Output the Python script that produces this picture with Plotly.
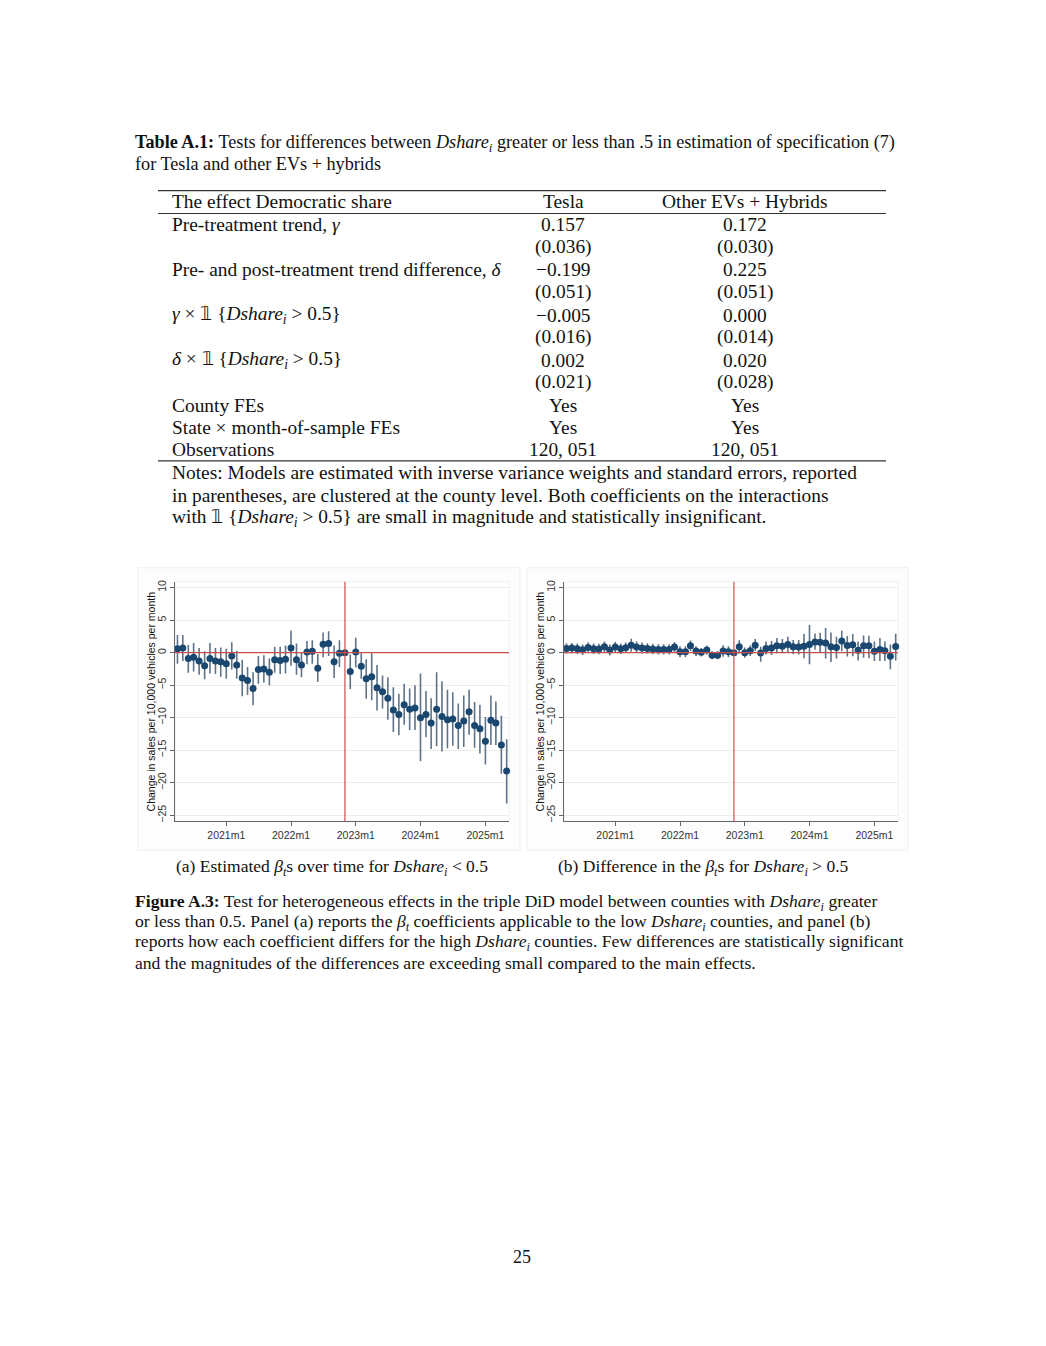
import plotly.graph_objects as go
import pandas as pd

W, H = 1046, 1346

# ---------------- data ----------------
months = pd.date_range("2020-04-01", periods=62, freq="MS")
event_month = "2022-11-01"

tick_vals = ["2021-01-01", "2022-01-01", "2023-01-01", "2024-01-01", "2025-01-01"]
tick_text = ["2021m1", "2022m1", "2023m1", "2024m1", "2025m1"]
y_ticks = [10, 5, 0, -5, -10, -15, -20, -25]

# Panel (a): estimated beta_t for Dshare < 0.5
a_coef = [0.6, 0.7, -0.9, -0.7, -1.3, -2.0, -0.9, -1.3, -1.4, -1.7,
          -0.5, -1.9, -3.9, -4.3, -5.5, -2.6, -2.5, -3.0, -1.1, -1.2,
          -1.0, 0.7, -1.1, -1.9, 0.1, 0.2, -2.4, 1.3, 1.4, -1.4,
          -0.1, 0.0, -2.9, 0.1, -2.1, -4.0, -3.7, -5.4, -6.0, -7.0,
          -8.8, -9.5, -8.0, -8.7, -8.5, -10.0, -9.5, -10.8, -8.7, -9.8,
          -10.3, -10.2, -11.2, -10.5, -9.1, -11.2, -11.7, -13.6, -10.4, -10.8,
          -14.2, -18.2]
a_lo = [-1.7, -1.3, -3.1, -2.9, -3.4, -4.1, -3.2, -3.3, -3.7, -4.0,
        -2.6, -4.0, -6.7, -6.5, -8.1, -4.8, -4.6, -5.0, -3.1, -3.3,
        -3.2, -2.0, -3.4, -3.8, -1.8, -1.7, -4.5, -0.7, -0.5, -3.9,
        -2.2, 0.0, -5.6, -2.3, -4.0, -7.1, -7.3, -8.9, -8.6, -10.3,
        -12.2, -12.7, -11.1, -11.9, -11.9, -16.7, -13.0, -14.8, -14.4, -15.2,
        -14.7, -14.3, -14.8, -14.5, -12.6, -14.6, -15.5, -17.2, -14.2, -14.2,
        -18.6, -23.2]
a_hi = [2.7, 2.7, 1.2, 1.5, 0.7, 0.2, 1.5, 0.7, 0.8, 0.6,
        1.6, 0.3, -1.1, -2.2, -3.0, -0.5, -0.4, -0.9, 0.9, 0.9,
        1.1, 3.4, 1.4, 0.0, 1.8, 1.9, -0.2, 3.1, 3.3, 1.1,
        1.9, 0.0, -0.3, 2.3, -0.1, -1.0, -0.1, -1.9, -3.5, -3.8,
        -5.3, -6.3, -4.8, -5.5, -5.0, -3.2, -5.9, -7.0, -3.0, -4.4,
        -5.7, -6.1, -7.8, -6.6, -5.7, -7.6, -8.0, -9.9, -6.6, -7.5,
        -9.7, -13.3]

# Panel (b): difference in beta_t for Dshare > 0.5
b_coef = [0.65, 0.7, 0.6, 0.45, 0.8, 0.6, 0.55, 0.9, 0.4, 0.85,
          0.6, 0.75, 1.15, 0.85, 0.7, 0.65, 0.55, 0.5, 0.5, 0.5,
          0.85, 0.15, 0.15, 1.05, 0.25, 0.05, 0.4, -0.4, -0.4, 0.25,
          0.15, 0.0, 0.9, 0.0, 0.3, 1.15, -0.05, 0.65, 0.7, 1.05,
          1.0, 1.25, 0.9, 0.85, 1.0, 1.25, 1.65, 1.6, 1.5, 0.9,
          0.8, 1.8, 1.1, 1.2, 0.35, 1.05, 1.05, 0.2, 0.5, 0.3,
          -0.55, 0.95]
b_lo = [-0.15, -0.1, -0.2, -0.35, 0.0, -0.2, -0.25, 0.1, -0.45, 0.05,
        -0.2, -0.05, 0.15, 0.0, -0.15, -0.15, -0.25, -0.3, -0.3, -0.3,
        0.05, -0.7, -0.7, 0.25, -0.5, -0.6, -0.3, -1.0, -1.0, -0.65,
        -0.7, 0.0, -0.15, -0.8, -0.5, 0.25, -1.4, -0.3, -0.35, -0.1,
        -0.1, 0.1, -0.2, -0.3, -0.85, -1.8, 0.45, 0.1, -0.9, -1.45,
        -0.9, 0.2, -0.6, -0.55, -1.2, -0.8, -0.85, -1.3, -1.3, -1.3,
        -2.55, -1.2]
b_hi = [1.45, 1.5, 1.4, 1.25, 1.6, 1.4, 1.35, 1.7, 1.25, 1.65,
        1.4, 1.55, 2.15, 1.7, 1.55, 1.45, 1.35, 1.3, 1.3, 1.3,
        1.65, 1.0, 1.0, 1.85, 1.0, 0.7, 1.1, 0.2, 0.2, 1.15,
        1.0, 0.0, 1.9, 0.8, 1.1, 2.1, 0.9, 1.7, 1.8, 2.25,
        2.1, 2.45, 1.95, 1.95, 2.85, 4.25, 2.95, 3.05, 3.8, 3.1,
        2.45, 3.35, 2.55, 2.85, 1.7, 2.65, 2.6, 1.7, 2.25, 1.7,
        1.25, 2.9]

# ---------------- text ----------------
table_title = [
    "<b>Table A.1:</b> Tests for differences between <i>Dshare<sub>i</sub></i> greater or less than .5 in estimation of specification (7)",
    "for Tesla and other EVs + hybrids",
]
table_header = ["The effect Democratic share", "Tesla", "Other EVs + Hybrids"]
row_labels = [
    "Pre-treatment trend, <i>γ</i>", "",
    "Pre- and post-treatment trend difference, <i>δ</i>", "",
    "<i>γ</i> × 𝟙 {<i>Dshare<sub>i</sub></i> &gt; 0.5}", "",
    "<i>δ</i> × 𝟙 {<i>Dshare<sub>i</sub></i> &gt; 0.5}", "",
    "County FEs", "State × month-of-sample FEs", "Observations",
]
tesla_col = ["0.157", "(0.036)", "−0.199", "(0.051)", "−0.005", "(0.016)",
             "0.002", "(0.021)", "Yes", "Yes", "120, 051"]
other_col = ["0.172", "(0.030)", "0.225", "(0.051)", "0.000", "(0.014)",
             "0.020", "(0.028)", "Yes", "Yes", "120, 051"]
notes = [
    "Notes: Models are estimated with inverse variance weights and standard errors, reported",
    "in parentheses, are clustered at the county level. Both coefficients on the interactions",
    "with 𝟙 {<i>Dshare<sub>i</sub></i> &gt; 0.5} are small in magnitude and statistically insignificant.",
]
sub_a = "(a) Estimated <i>β<sub>t</sub></i>s over time for <i>Dshare<sub>i</sub></i> &lt; 0.5"
sub_b = "(b) Difference in the <i>β<sub>t</sub></i>s for <i>Dshare<sub>i</sub></i> &gt; 0.5"
fig_caption = [
    "<b>Figure A.3:</b> Test for heterogeneous effects in the triple DiD model between counties with <i>Dshare<sub>i</sub></i> greater",
    "or less than 0.5. Panel (a) reports the <i>β<sub>t</sub></i> coefficients applicable to the low <i>Dshare<sub>i</sub></i> counties, and panel (b)",
    "reports how each coefficient differs for the high <i>Dshare<sub>i</sub></i> counties. Few differences are statistically significant",
    "and the magnitudes of the differences are exceeding small compared to the main effects.",
]
y_title = "Change in sales per 10,000 vehicles per month"
page_number = "25"

# ---------------- helpers ----------------
def fx(px):
    return px / W

def fy(py):
    return 1 - py / H

SERIF = "Liberation Serif"
SANS = "Liberation Sans"
NAVY = "#1a476f"
BAR = "#5f7388"
RED = "#c8504c"

fig = go.Figure()

panels = [
    ("x", "y", a_coef, a_lo, a_hi),
    ("x2", "y2", b_coef, b_lo, b_hi),
]
for xr, yr, coef, lo, hi in panels:
    fig.add_trace(go.Scatter(
        x=months, y=coef, xaxis=xr, yaxis=yr, mode="markers",
        marker=dict(color=NAVY, size=7),
        error_y=dict(type="data", symmetric=False,
                     array=[h - c for h, c in zip(hi, coef)],
                     arrayminus=[c - l for c, l in zip(coef, lo)],
                     color=BAR, thickness=1.6, width=0),
        showlegend=False, cliponaxis=False,
    ))

x_range = ["2020-03-18", "2025-05-14"]
y_range = [-25.9, 10.9]
axis_common_x = dict(
    type="date", range=x_range, tickvals=tick_vals, ticktext=tick_text,
    showline=True, linecolor="#666666", linewidth=1, ticks="outside",
    ticklen=4, tickcolor="#666666", showgrid=False, zeroline=False,
    tickfont=dict(family=SANS, size=10.5, color="#333333"),
)
axis_common_y = dict(
    range=y_range, tickvals=y_ticks, showline=True, linecolor="#666666",
    linewidth=1, ticks="outside", ticklen=4, tickcolor="#666666",
    showgrid=True, gridcolor="#ececec", gridwidth=1, zeroline=False,
    tickangle=-90, tickfont=dict(family=SANS, size=10.5, color="#333333"),
)
plot_top, plot_bot = 581, 821
fig.update_layout(
    xaxis=dict(domain=[fx(175), fx(509)], anchor="y", **axis_common_x),
    yaxis=dict(domain=[fy(plot_bot), fy(plot_top)], anchor="x", **axis_common_y),
    xaxis2=dict(domain=[fx(564), fx(898)], anchor="y2", **axis_common_x),
    yaxis2=dict(domain=[fy(plot_bot), fy(plot_top)], anchor="x2", **axis_common_y),
)

shapes = []
# outer graph regions
for x0, x1 in [(138, 520), (527, 908)]:
    shapes.append(dict(type="rect", xref="paper", yref="paper",
                       x0=fx(x0), x1=fx(x1), y0=fy(850), y1=fy(567),
                       line=dict(color="#efefef", width=1), fillcolor="#fdfdfd",
                       layer="below"))
for xr, yr in [("x", "y"), ("x2", "y2")]:
    shapes.append(dict(type="rect", xref=f"{xr} domain", yref=f"{yr} domain",
                       x0=0, x1=1, y0=0, y1=1, line=dict(color="#f0f0f0", width=1),
                       fillcolor="white", layer="below"))
    shapes.append(dict(type="line", xref=f"{xr} domain", yref=yr,
                       x0=0, x1=1, y0=0, y1=0, line=dict(color=RED, width=1.2)))
    shapes.append(dict(type="line", xref=xr, yref=f"{yr} domain",
                       x0=event_month, x1=event_month, y0=0, y1=1,
                       line=dict(color=RED, width=1.2)))
# table rules
shapes.append(dict(type="line", xref="paper", yref="paper", x0=fx(158), x1=fx(886),
                   y0=fy(189), y1=fy(189), line=dict(color="#333333", width=1.3)))
shapes.append(dict(type="line", xref="paper", yref="paper", x0=fx(158), x1=fx(886),
                   y0=fy(212), y1=fy(212), line=dict(color="#333333", width=1)))
shapes.append(dict(type="line", xref="paper", yref="paper", x0=fx(158), x1=fx(886),
                   y0=fy(460), y1=fy(460), line=dict(color="#333333", width=1.3)))

annotations = []

def txt(s, px, py, size=17, anchor="left", family=SERIF, angle=0):
    annotations.append(dict(text=s, x=fx(px), y=fy(py), xref="paper", yref="paper",
                            xanchor=anchor, yanchor="middle", showarrow=False,
                            textangle=angle,
                            font=dict(family=family, size=size, color="#111111")))

CAP = 17.6
TAB = 19.4
txt(table_title[0], 133, 142, size=18.2)
txt(table_title[1], 133, 162, size=18.2)
txt(table_header[0], 170, 200, size=TAB)
txt(table_header[1], 563, 200, size=TAB, anchor="center")
txt(table_header[2], 745, 200, size=TAB, anchor="center")
row_y = [223, 246, 268, 291, 314, 336, 359, 381, 404, 426, 449]
for lab, t, o, ry in zip(row_labels, tesla_col, other_col, row_y):
    if lab:
        txt(lab, 170, ry, size=TAB)
    txt(t, 563, ry, size=TAB, anchor="center")
    txt(o, 745, ry, size=TAB, anchor="center")
for s, ny in zip(notes, [472, 495, 517]):
    txt(s, 170, ny, size=TAB)

txt(sub_a, 332, 867, size=17.5, anchor="center")
txt(sub_b, 703, 867, size=17.5, anchor="center")
for s, cy in zip(fig_caption, [903, 923, 943, 963]):
    txt(s, 133, cy, size=CAP)
txt(page_number, 522, 1258, size=18, anchor="center")

# y-axis titles
txt(y_title, 151, 701, size=10.5, anchor="center", family=SANS, angle=-90)
txt(y_title, 540, 701, size=10.5, anchor="center", family=SANS, angle=-90)

fig.update_layout(
    width=W, height=H, margin=dict(l=0, r=0, t=0, b=0),
    paper_bgcolor="white", plot_bgcolor="white",
    shapes=shapes, annotations=annotations,
)

fig.write_html("out.html", config={"displayModeBar": False},
               post_script="document.body.style.margin='0px';")
